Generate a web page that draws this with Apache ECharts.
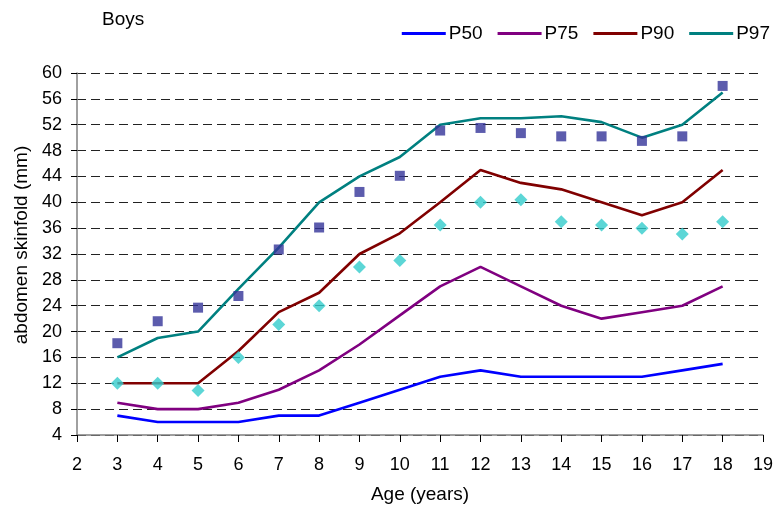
<!DOCTYPE html>
<html>
<head>
<meta charset="utf-8">
<script src="https://cdn.jsdelivr.net/npm/echarts@6/dist/echarts.min.js"></script>
<style>
  html, body { margin: 0; padding: 0; background: #fff; }
  #chart { width: 776px; height: 509px; }
</style>
</head>
<body>
<div id="chart"></div>
<script>
var ages = [3, 4, 5, 6, 7, 8, 9, 10, 11, 12, 13, 14, 15, 16, 17, 18];
var p50 = [7, 6, 6, 6, 7, 7, 9, 11, 13, 14, 13, 13, 13, 13, 14, 15];
var p75 = [9, 8, 8, 9, 11, 14, 18, 22.5, 27, 30, 27, 24, 22, 23, 24, 27];
var p90 = [12, 12, 12, 17, 23, 26, 32, 35.2, 40, 45, 43, 42, 40, 38, 40, 45];
var p97 = [16, 19, 20, 26.6, 33, 40, 44, 47, 52, 53, 53, 53.3, 52.4, 50, 52, 57];
var squares = [18.2, 21.6, 23.7, 25.5, 32.7, 36.1, 41.6, 44.1, 51.1, 51.5, 50.7, 50.2, 50.2, 49.5, 50.2, 58];
var diamonds = [12, 12, 10.9, 16, 21.1, 24, 30, 31, 36.5, 40, 40.4, 37, 36.5, 36, 35.1, 37];

function pairs(vals) {
  return ages.map(function (a, i) { return [a, vals[i]]; });
}

var font = "Liberation Sans, Arial, sans-serif";
var chart = echarts.init(document.getElementById("chart"));

function lineSeries(name, vals, color) {
  return {
    name: name,
    type: "line",
    data: pairs(vals),
    symbol: "none",
    lineStyle: { color: color, width: 2.6 },
    itemStyle: { color: color },
    z: 2
  };
}

chart.setOption({
  animation: false,
  textStyle: { fontFamily: font },
  title: {
    text: "Boys",
    left: 97,
    top: 5,
    textStyle: { fontFamily: font, fontSize: 19, fontWeight: "normal", color: "#000" }
  },
  legend: {
    data: ["P50", "P75", "P90", "P97"],
    top: 19,
    right: 1,
    itemWidth: 44,
    itemHeight: 3,
    itemGap: 15,
    icon: "rect",
    textStyle: { fontFamily: font, fontSize: 19, color: "#000", padding: [0, 0, 0, -2] }
  },
  grid: { left: 77, right: 10, top: 73, bottom: 72 },
  xAxis: {
    type: "value",
    min: 2,
    max: 19,
    interval: 1,
    name: "Age (years)",
    nameLocation: "middle",
    nameGap: 50,
    nameTextStyle: { fontFamily: font, fontSize: 19, color: "#000" },
    axisLine: { lineStyle: { color: "#808080", width: 1.5 } },
    axisTick: { show: true, length: 7, lineStyle: { color: "#000" } },
    axisLabel: { fontFamily: font, fontSize: 18, color: "#000", margin: 21 },
    splitLine: { show: false }
  },
  yAxis: {
    type: "value",
    min: 4,
    max: 60,
    interval: 4,
    name: "abdomen skinfold (mm)",
    nameLocation: "middle",
    nameGap: 46,
    nameTextStyle: { fontFamily: font, fontSize: 19, color: "#000", padding: [0, 0, 0, 18] },
    axisLine: { show: true, lineStyle: { color: "#808080", width: 1.5 } },
    axisTick: { show: true, length: 6, lineStyle: { color: "#000" } },
    axisLabel: { fontFamily: font, fontSize: 18, color: "#000", margin: 15 },
    splitLine: { show: true, lineStyle: { color: "#222", type: [9, 5], width: 1 } }
  },
  series: [
    lineSeries("P50", p50, "#0000ff"),
    lineSeries("P75", p75, "#800080"),
    lineSeries("P90", p90, "#800000"),
    lineSeries("P97", p97, "#008080"),
    {
      name: "squares",
      type: "scatter",
      data: pairs(squares),
      symbol: "rect",
      symbolSize: 10,
      itemStyle: { color: "#333399" },
      z: 3
    },
    {
      name: "diamonds",
      type: "scatter",
      data: pairs(diamonds),
      symbol: "diamond",
      symbolSize: [13, 13],
      itemStyle: { color: "#33cccc" },
      z: 3
    }
  ]
});
</script>
</body>
</html>
